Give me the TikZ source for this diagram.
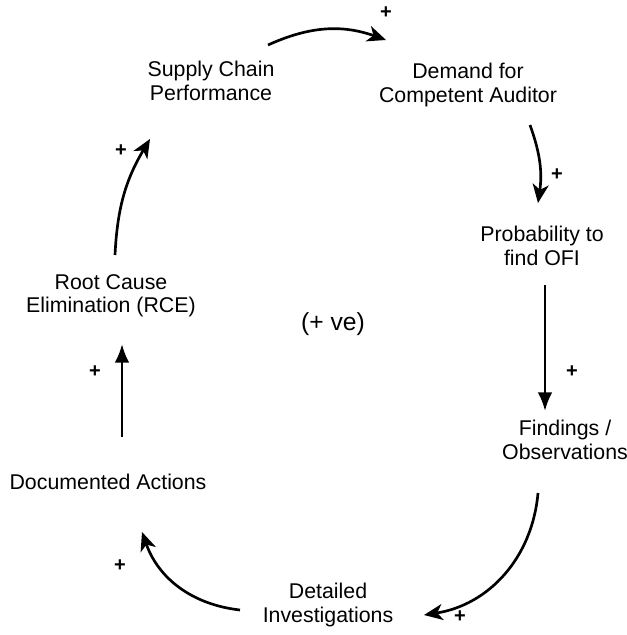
\documentclass[tikz,border=0pt]{standalone}
\usepackage{fontspec}
\setmainfont{Liberation Sans}
\usetikzlibrary{arrows.meta}
\begin{document}
\begin{tikzpicture}[x=0.75pt,y=0.75pt,
	factor/.style={align=center,font=\fontsize{16}{17.5}\selectfont},
	sign/.style={font=\fontsize{15}{15}\selectfont\bfseries},
	link/.style={line width=2pt,-{Stealth[length=14pt,width=12pt,inset=4pt]}},
	flow/.style={line width=2pt,-{Latex[length=14pt,width=11pt]}}]
	\useasboundingbox (0,0) rectangle (627,-635);
	\node[factor] (supply) at (211,-81) {Supply Chain\\Performance};
	\node[factor] (demand) at (468,-85) {Demand for\\Competent Auditor};
	\node[factor] (prob) at (542,-246) {Probability to\\find OFI};
	\node[factor] (find) at (565,-440) {Findings /\\Observations};
	\node[factor] (invest) at (328,-605) {Detailed\\Investigations};
	\node[factor] (docact) at (108,-482) {Documented Actions};
	\node[factor] (rce) at (111,-296) {Root Cause\\Elimination (RCE)};
	\node[font=\fontsize{18.5}{20}\selectfont] (loop) at (333,-324) {(+ ve)};
	% arrow ends
	\coordinate (a1) at (268,-45); \coordinate (b1) at (386,-40);
	\coordinate (a2) at (530,-125); \coordinate (b2) at (538,-203);
	\coordinate (a3) at (545,-285); \coordinate (b3) at (545,-411);
	\coordinate (a4) at (538,-493); \coordinate (b4) at (424,-615);
	\coordinate (a5) at (240,-610); \coordinate (b5) at (142,-532);
	\coordinate (a6) at (122,-437); \coordinate (b6) at (122,-344);
	\coordinate (a7) at (115,-255); \coordinate (b7) at (150,-139);
	\draw[link] (a1) to[bend left=22] (b1);
	\draw[link] (a2) to[bend left=14] (b2);
	\draw[flow] (a3) to (b3);
	\draw[link] (a4) to[bend left=38] (b4);
	\draw[link] (a5) to[bend left=32] (b5);
	\draw[flow] (a6) to (b6);
	\draw[link] (a7) to[bend left=14] (b7);
	\node[sign] (s1) at (386,-13) {+};
	\node[sign] (s2) at (557,-175) {+};
	\node[sign] (s3) at (572,-372) {+};
	\node[sign] (s4) at (460,-617) {+};
	\node[sign] (s5) at (120,-566) {+};
	\node[sign] (s6) at (95,-372) {+};
	\node[sign] (s7) at (121,-151) {+};
\end{tikzpicture}
\end{document}
